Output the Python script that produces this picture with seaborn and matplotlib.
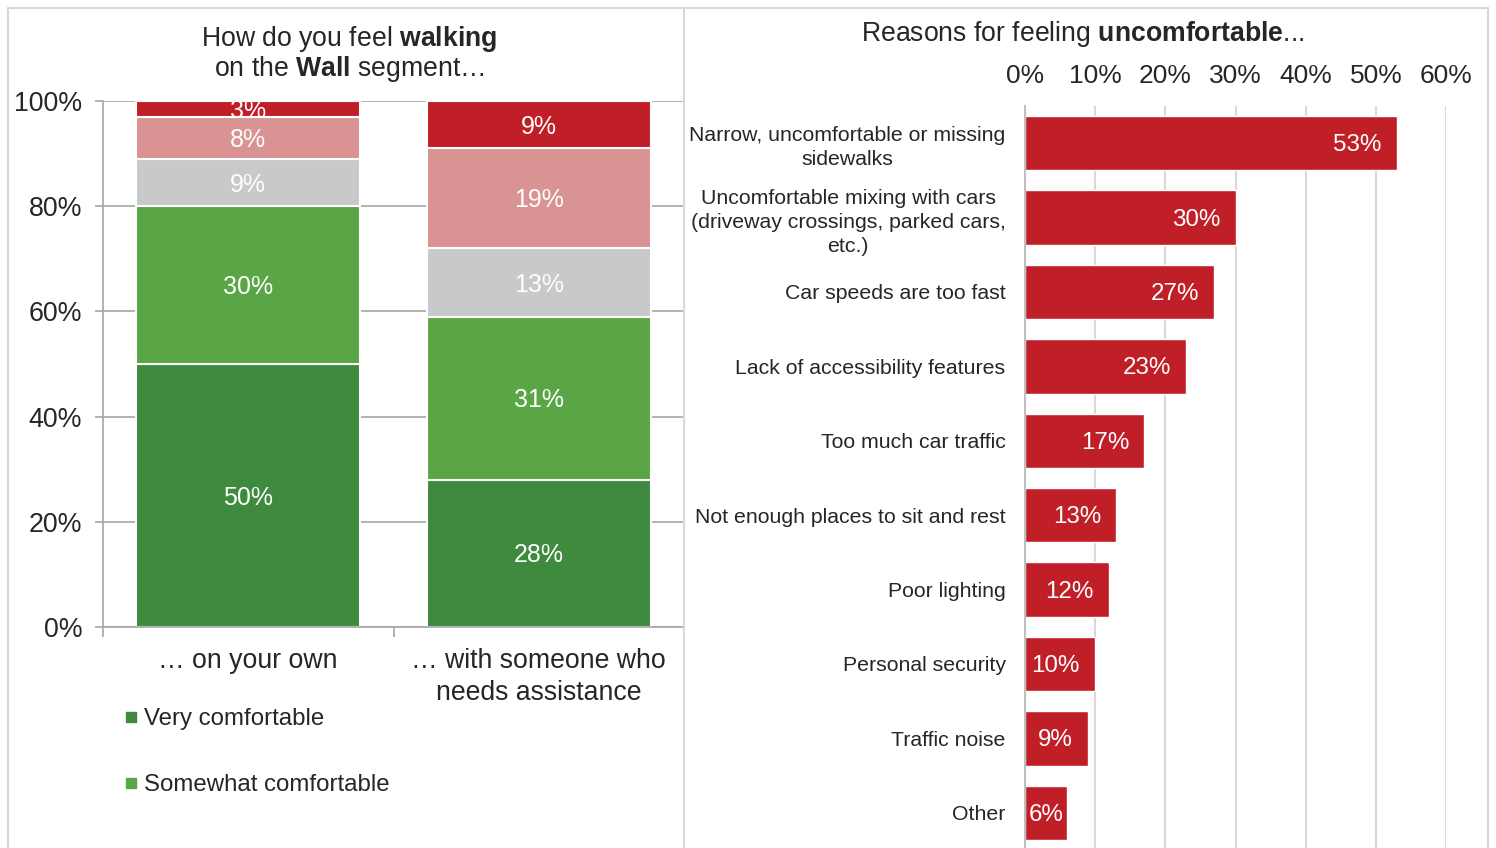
import matplotlib
matplotlib.use("Agg")
import matplotlib.pyplot as plt
import seaborn as sns
import numpy as np
from matplotlib.lines import Line2D

# ---------------- data ----------------
groups = ["… on your own", "… with someone who\nneeds assistance"]
levels = ["Very comfortable", "Somewhat comfortable", "Neutral",
          "Somewhat uncomfortable", "Very uncomfortable"]
very_comfortable = [50, 28]
somewhat_comfortable = [30, 31]
neutral = [9, 13]
somewhat_uncomfortable = [8, 19]
very_uncomfortable = [3, 9]

reasons = ["Narrow, uncomfortable or missing\nsidewalks",
           "Uncomfortable mixing with cars\n(driveway crossings, parked cars,\netc.)",
           "Car speeds are too fast",
           "Lack of accessibility features",
           "Too much car traffic",
           "Not enough places to sit and rest",
           "Poor lighting",
           "Personal security",
           "Traffic noise",
           "Other"]
reason_values = [53, 30, 27, 23, 17, 13, 12, 10, 9, 6]

left_ticks = [0, 20, 40, 60, 80, 100]
right_ticks = [0, 10, 20, 30, 40, 50, 60]

# ---------------- style ----------------
sns.set_style("white")
plt.rcParams["font.family"] = ["Liberation Sans", "DejaVu Sans"]
plt.rcParams["mathtext.fontset"] = "custom"
plt.rcParams["mathtext.rm"] = "Liberation Sans"
plt.rcParams["mathtext.bf"] = "Liberation Sans:bold"
plt.rcParams["mathtext.it"] = "Liberation Sans:italic"

TXT = "#262626"
colors = ["#3E8A3F", "#5AA646", "#C8C9CB", "#D99393", "#C01F28"]
RED = "#C11F27"

W, H = 1496, 848
fig = plt.figure(figsize=(W / 100, H / 100), dpi=100)

# ---------------- left panel ----------------
axL = fig.add_axes([103 / W, 1 - 627 / H, 581 / W, 526 / H])
series = [very_comfortable, somewhat_comfortable, neutral,
          somewhat_uncomfortable, very_uncomfortable]
bottom = np.zeros(len(groups))
for vals, c in zip(series, colors):
    sns.barplot(x=groups, y=vals, bottom=bottom, color=c, width=0.77,
                edgecolor="white", linewidth=1.5, errorbar=None, ax=axL,
                saturation=1)
    bottom = bottom + np.array(vals)

for cont, vals in zip(axL.containers, series):
    axL.bar_label(cont, labels=[f"{v}%" for v in vals], label_type="center",
                  color="white", fontsize=18, padding=-1.5)

axL.set_xlim(-0.5, 1.5)
axL.set_ylim(0, 100)
axL.set_yticks(left_ticks)
axL.set_yticklabels([f"{t}%" for t in left_ticks], fontsize=19.3, color=TXT)
axL.tick_params(axis="y", length=6, width=1.2, color="#A6A6A6", pad=9, left=True)
axL.set_xticks([0, 1])
axL.set_xticklabels(groups, fontsize=19.2, color=TXT, linespacing=1.3)
axL.set_xticks([-0.5, 0.5, 1.5], minor=True)
axL.tick_params(axis="x", which="major", length=0, pad=15)
axL.tick_params(axis="x", which="minor", length=7, width=1.2, color="#A6A6A6",
                bottom=True)
axL.yaxis.grid(True, color="#A6A6A6", linewidth=1.2)
axL.set_axisbelow(True)
for s in ["top", "right"]:
    axL.spines[s].set_visible(False)
for s in ["left", "bottom"]:
    axL.spines[s].set_color("#A6A6A6")
    axL.spines[s].set_linewidth(1.2)
axL.set_xlabel("")
axL.set_ylabel("")

handles = [Line2D([], [], marker="s", linestyle="", color=colors[0], markersize=7),
           Line2D([], [], marker="s", linestyle="", color=colors[1], markersize=7)]
fig.legend(handles, levels[:2], loc="upper left",
           bbox_to_anchor=(124 / W, 1 - 708 / H), frameon=False, fontsize=17.3,
           handlelength=0.6, handletextpad=0.25, labelspacing=1.85,
           borderpad=0, borderaxespad=0, labelcolor=TXT)

# ---------------- right panel ----------------
axR = fig.add_axes([1025 / W, 1 - 850 / H, 421 / W, 744 / H])
sns.barplot(x=reason_values, y=reasons, color=RED, width=0.73, orient="h",
            errorbar=None, ax=axR, saturation=1)
axR.set_xlim(0, 60)
axR.set_xticks(right_ticks)
axR.set_xticklabels([f"{t}%" for t in right_ticks], fontsize=19, color=TXT)
axR.xaxis.tick_top()
axR.tick_params(axis="x", length=0, pad=13)
axR.tick_params(axis="y", length=0, pad=14)
for lab in axR.get_yticklabels():
    lab.set_fontsize(15.3)
    lab.set_color(TXT)
    lab.set_multialignment("center")
    lab.set_linespacing(1.33)
axR.xaxis.grid(True, color="#D9D9D9", linewidth=1.5)
axR.set_axisbelow(True)
for s in ["top", "right", "bottom"]:
    axR.spines[s].set_visible(False)
axR.spines["left"].set_color("#BFBFBF")
axR.spines["left"].set_linewidth(1.5)
axR.set_xlabel("")
axR.set_ylabel("")

for cont in axR.containers:
    for rect, v in zip(cont.patches, reason_values):
        y = rect.get_y() + rect.get_height() / 2
        if v < 8:
            axR.annotate(f"{v}%", xy=(v / 2, y), xytext=(0, -1.5),
                         textcoords="offset points", ha="center", va="center",
                         color="white", fontsize=17.4)
        else:
            axR.annotate(f"{v}%", xy=(v, y), xytext=(-11, -1.5),
                         textcoords="offset points", ha="right", va="center",
                         color="white", fontsize=17.4)

# ---------------- titles ----------------
fig.text(349 / W, 1 - 39 / H, r"How do you feel $\bf{walking}$", ha="center",
         va="center", fontsize=19.2, color=TXT)
fig.text(349 / W, 1 - 69 / H, r"on the $\bf{Wall}$ segment…", ha="center",
         va="center", fontsize=19.2, color=TXT)
fig.text(1083 / W, 1 - 34 / H, r"Reasons for feeling $\bf{uncomfortable}$...",
         ha="center", va="center", fontsize=19.2, color=TXT)

# ---------------- panel borders ----------------
bc = "#D9D9D9"
for (x0, y0, x1, y1) in [(8, 8, 1488, 8), (8, 8, 8, 848), (684, 8, 684, 848),
                         (1488, 8, 1488, 848)]:
    fig.add_artist(Line2D([x0 / W, x1 / W], [1 - y0 / H, 1 - y1 / H],
                          transform=fig.transFigure, color=bc, linewidth=1.5))

fig.savefig("out.png", dpi=100)
